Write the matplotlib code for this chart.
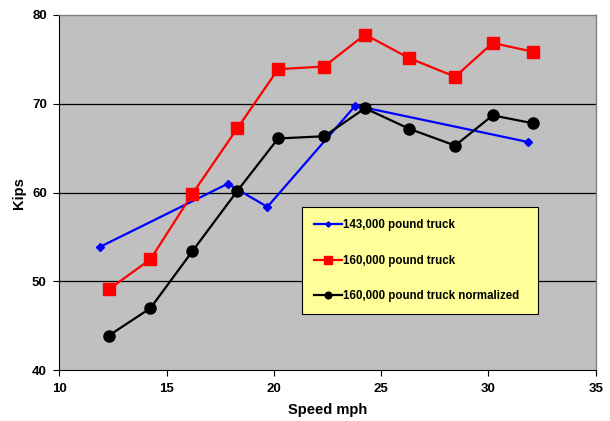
import matplotlib
matplotlib.use("Agg")
import matplotlib.pyplot as plt

plt.rcParams['font.family'] = ['Liberation Sans', 'DejaVu Sans']

# Measured loads vs. speed
speed_143 = [11.9, 17.85, 19.7, 23.8, 31.85]
kips_143 = [53.9, 61.0, 58.4, 69.8, 65.7]

speed_160 = [12.3, 14.25, 16.2, 18.3, 20.2, 22.35, 24.25, 26.3, 28.45, 30.2, 32.1]
kips_160 = [49.1, 52.5, 59.85, 67.25, 73.9, 74.2, 77.8, 75.15, 73.05, 76.85, 75.85]
kips_160_norm = [43.9, 47.0, 53.4, 60.2, 66.1, 66.35, 69.5, 67.2, 65.3, 68.7, 67.8]

series_labels = ["143,000 pound truck", "160,000 pound truck",
                 "160,000 pound truck normalized"]
x_ticks = [10, 15, 20, 25, 30, 35]
y_ticks = [40, 50, 60, 70, 80]

fig = plt.figure(figsize=(6.10, 4.21), dpi=100)
ax = fig.add_axes([0.0972, 0.1204, 0.8793, 0.8440])
ax.set_facecolor('#C0C0C0')

ax.plot(speed_143, kips_143, color='#0000FF', lw=1.6, marker='D',
        markersize=4.5, label=series_labels[0], zorder=3)
ax.plot(speed_160, kips_160, color='#FF0000', lw=1.6, marker='s',
        markersize=8.5, label=series_labels[1], zorder=3)
ax.plot(speed_160, kips_160_norm, color='#000000', lw=1.6, marker='o',
        markersize=8, label=series_labels[2], zorder=4)

ax.set_xlim(10, 35)
ax.set_ylim(40, 80)
ax.set_xticks(x_ticks)
ax.set_yticks(y_ticks)
for y in y_ticks[1:-1]:
    ax.axhline(y, color='black', lw=0.9, zorder=1)

for side in ('top', 'right'):
    ax.spines[side].set_color('#808080')
    ax.spines[side].set_linewidth(1.0)
for side in ('left', 'bottom'):
    ax.spines[side].set_color('#000000')
    ax.spines[side].set_linewidth(0.8)

ax.tick_params(direction='out', length=4, width=0.8, labelsize=9.5, pad=5)
for lbl in ax.get_xticklabels() + ax.get_yticklabels():
    lbl.set_fontweight('bold')

ax.set_xlabel('Speed mph', fontsize=10.5, fontweight='bold', labelpad=6)
ax.set_ylabel('Kips', fontsize=10.5, fontweight='bold', labelpad=4)

leg = ax.legend(loc='upper left', bbox_to_anchor=(0.4524, 0.1722, 0.4398, 0.2874),
                mode='expand', prop={'weight': 'bold', 'size': 8.3},
                frameon=True, fancybox=False, labelspacing=2.05,
                borderpad=1.05, handlelength=2.4, handletextpad=0.1,
                borderaxespad=0.0, markerscale=0.6)
leg.get_frame().set_facecolor('#FFFF99')
leg.get_frame().set_edgecolor('#000000')
leg.get_frame().set_linewidth(0.8)
leg.get_frame().set_alpha(1.0)
leg.set_zorder(5)

fig.savefig('out.png', dpi=100)
